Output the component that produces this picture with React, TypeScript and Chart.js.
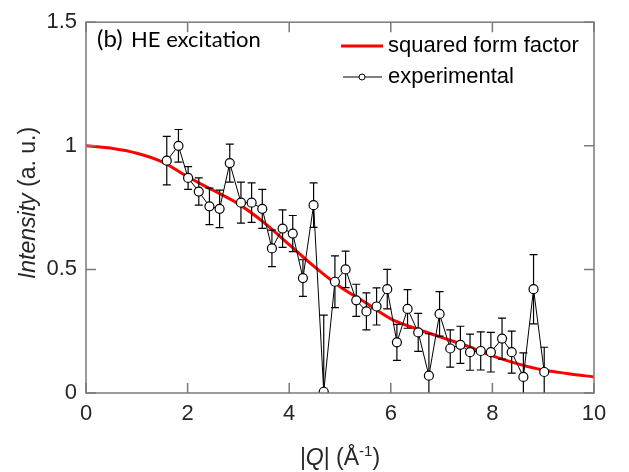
import { useEffect, useRef } from 'react';
import { Chart, registerables } from 'chart.js';

Chart.register(...registerables);

// squared form factor
const formQ = [0, 0.5, 1, 1.5, 2, 2.5, 3, 3.5, 4, 4.5, 5, 5.5, 6, 6.5, 7, 7.5, 8, 8.5, 9, 9.5, 10];
const formI = [1.0, 0.99, 0.97, 0.935, 0.875, 0.82, 0.765, 0.69, 0.6, 0.51, 0.43, 0.366, 0.3, 0.26, 0.225, 0.19, 0.15, 0.118, 0.093, 0.078, 0.065];

// experimental points
const expQ = [1.59, 1.82, 2.01, 2.22, 2.43, 2.63, 2.83, 3.05, 3.26, 3.47, 3.66, 3.87, 4.07, 4.27, 4.48, 4.68, 4.9, 5.11, 5.32,
  5.52, 5.72, 5.93, 6.12, 6.33, 6.54, 6.75, 6.96, 7.17, 7.37, 7.56, 7.77, 7.97, 8.19, 8.38, 8.61, 8.81, 9.02];
const expI = [0.94, 1.0, 0.87, 0.815, 0.755, 0.745, 0.93, 0.77, 0.77, 0.745, 0.585, 0.665, 0.645, 0.465, 0.76, 0.005, 0.45, 0.5, 0.375,
  0.33, 0.35, 0.42, 0.205, 0.34, 0.245, 0.07, 0.32, 0.18, 0.195, 0.165, 0.17, 0.165, 0.22, 0.165, 0.065, 0.42, 0.085];
const expErr = [0.098, 0.066, 0.046, 0.055, 0.074, 0.076, 0.077, 0.083, 0.08, 0.079, 0.074, 0.076, 0.073, 0.074, 0.09, 0.31, 0.105, 0.074, 0.065,
  0.075, 0.075, 0.08, 0.073, 0.078, 0.077, 0.17, 0.09, 0.075, 0.075, 0.073, 0.077, 0.08, 0.083, 0.085, 0.097, 0.14, 0.1];

const xTicks = [0, 2, 4, 6, 8, 10];
const yTicks = [0, 0.5, 1, 1.5];

const SANS = '"Liberation Sans", Arial, sans-serif';
const AXIS = '#7a7a7a';
const TEXT = '#262626';

const decorations = {
  id: 'decorations',
  beforeDatasetDraw(chart: any, args: any) {
    if (args.index !== 0) return;
    const { ctx, chartArea: a, scales } = chart;
    const x = scales.x;
    const y = scales.y;
    ctx.save();
    ctx.beginPath();
    ctx.rect(a.left, a.top, a.right - a.left, a.bottom - a.top);
    ctx.clip();
    ctx.strokeStyle = '#000';
    ctx.lineWidth = 1.2;
    expQ.forEach((q, i) => {
      const px = x.getPixelForValue(q);
      const top = y.getPixelForValue(expI[i] + expErr[i]);
      const bot = y.getPixelForValue(expI[i] - expErr[i]);
      ctx.beginPath();
      ctx.moveTo(px, top);
      ctx.lineTo(px, bot);
      ctx.moveTo(px - 4, top);
      ctx.lineTo(px + 4, top);
      ctx.moveTo(px - 4, bot);
      ctx.lineTo(px + 4, bot);
      ctx.stroke();
    });
    ctx.restore();
  },
  afterDraw(chart: any) {
    const { ctx, chartArea: a, scales } = chart;
    const x = scales.x;
    const y = scales.y;
    ctx.save();

    // box and inward ticks
    ctx.strokeStyle = AXIS;
    ctx.lineWidth = 1.5;
    ctx.strokeRect(a.left, a.top, a.right - a.left, a.bottom - a.top);
    ctx.beginPath();
    xTicks.forEach(t => {
      const px = x.getPixelForValue(t);
      ctx.moveTo(px, a.bottom);
      ctx.lineTo(px, a.bottom - 10);
      ctx.moveTo(px, a.top);
      ctx.lineTo(px, a.top + 10);
    });
    yTicks.forEach(t => {
      const py = y.getPixelForValue(t);
      ctx.moveTo(a.left, py);
      ctx.lineTo(a.left + 10, py);
      ctx.moveTo(a.right, py);
      ctx.lineTo(a.right - 10, py);
    });
    ctx.stroke();

    // panel label
    ctx.fillStyle = '#000';
    ctx.textBaseline = 'alphabetic';
    ctx.textAlign = 'left';
    ctx.font = '24px Lato, "Open Sans", sans-serif';
    ctx.fillText('(b)', 97, 47);
    ctx.font = '22px Lato, "Open Sans", sans-serif';
    ctx.fillText('HE excitation', 131, 47);

    // legend
    ctx.font = `22px ${SANS}`;
    ctx.strokeStyle = '#ff0000';
    ctx.lineWidth = 3;
    ctx.beginPath();
    ctx.moveTo(341, 46);
    ctx.lineTo(383, 46);
    ctx.stroke();
    ctx.strokeStyle = '#000';
    ctx.lineWidth = 1;
    ctx.beginPath();
    ctx.moveTo(343, 77);
    ctx.lineTo(359, 77);
    ctx.moveTo(365, 77);
    ctx.lineTo(382, 77);
    ctx.stroke();
    ctx.beginPath();
    ctx.arc(362, 77, 3, 0, Math.PI * 2);
    ctx.stroke();
    ctx.textBaseline = 'middle';
    ctx.fillText('squared form factor', 388, 46);
    ctx.fillText('experimental', 388, 77);

    // x title: |Q| (Å^-1)
    ctx.fillStyle = TEXT;
    ctx.textBaseline = 'alphabetic';
    const base = `23px ${SANS}`;
    const ital = `italic 23px ${SANS}`;
    const sup = `15px ${SANS}`;
    const parts: [string, string, number][] = [
      ['|', base, 0], ['Q', ital, 0], ['| (Å', base, 0], ['-1', sup, -9], [')', base, 0],
    ];
    let w = 0;
    parts.forEach(([s, f]) => { ctx.font = f; w += ctx.measureText(s).width; });
    let cx = (a.left + a.right) / 2 - w / 2;
    parts.forEach(([s, f, dy]) => {
      ctx.font = f;
      ctx.fillText(s, cx, 465 + dy);
      cx += ctx.measureText(s).width;
    });

    // y title: Intensity (a. u.)
    ctx.translate(35, 203);
    ctx.rotate(-Math.PI / 2);
    ctx.font = ital;
    const w1 = ctx.measureText('Intensity').width;
    ctx.font = base;
    const w2 = ctx.measureText(' (a. u.)').width;
    let sx = -(w1 + w2) / 2;
    ctx.font = ital;
    ctx.fillText('Intensity', sx, 0);
    sx += w1;
    ctx.font = base;
    ctx.fillText(' (a. u.)', sx, 0);

    ctx.restore();
  },
};

export default function App() {
  const canvasRef = useRef<HTMLCanvasElement>(null);

  useEffect(() => {
    if (!canvasRef.current) return;
    const chart = new Chart(canvasRef.current, {
      type: 'scatter',
      data: {
        datasets: [
          {
            type: 'line',
            label: 'experimental',
            data: expQ.map((q, i) => ({ x: q, y: expI[i] })),
            borderColor: '#000',
            borderWidth: 1,
            pointRadius: 4.5,
            pointBorderWidth: 1.2,
            pointBorderColor: '#000',
            pointBackgroundColor: '#fff',
            tension: 0,
            order: 1,
            clip: 0,
          } as any,
          {
            type: 'line',
            label: 'squared form factor',
            data: formQ.map((q, i) => ({ x: q, y: formI[i] })),
            borderColor: '#ff0000',
            borderWidth: 3,
            pointRadius: 0,
            cubicInterpolationMode: 'monotone',
            order: 2,
          } as any,
        ],
      },
      options: {
        animation: false,
        responsive: true,
        maintainAspectRatio: false,
        layout: { padding: { top: 16, right: 35, left: 0, bottom: 0 } },
        plugins: {
          legend: { display: false },
          tooltip: { enabled: false },
        },
        scales: {
          x: {
            type: 'linear',
            min: 0,
            max: 10,
            grid: { display: false, drawTicks: false },
            border: { display: false },
            ticks: { stepSize: 2, padding: 8, color: TEXT, font: { family: SANS, size: 22 } },
            afterFit: (s: any) => { s.height = 79; },
          },
          y: {
            type: 'linear',
            min: 0,
            max: 1.5,
            grid: { display: false, drawTicks: false },
            border: { display: false },
            ticks: {
              stepSize: 0.5,
              padding: 9,
              color: TEXT,
              font: { family: SANS, size: 22 },
              callback: (v: any) => String(Number(v)),
            },
            afterFit: (s: any) => { s.width = 86; },
          },
        },
      },
      plugins: [decorations],
    });
    return () => chart.destroy();
  }, []);

  return (
    <div style={{ position: 'absolute', left: 0, top: 0, width: 629, height: 472, background: '#fff' }}>
      <canvas ref={canvasRef} />
    </div>
  );
}
